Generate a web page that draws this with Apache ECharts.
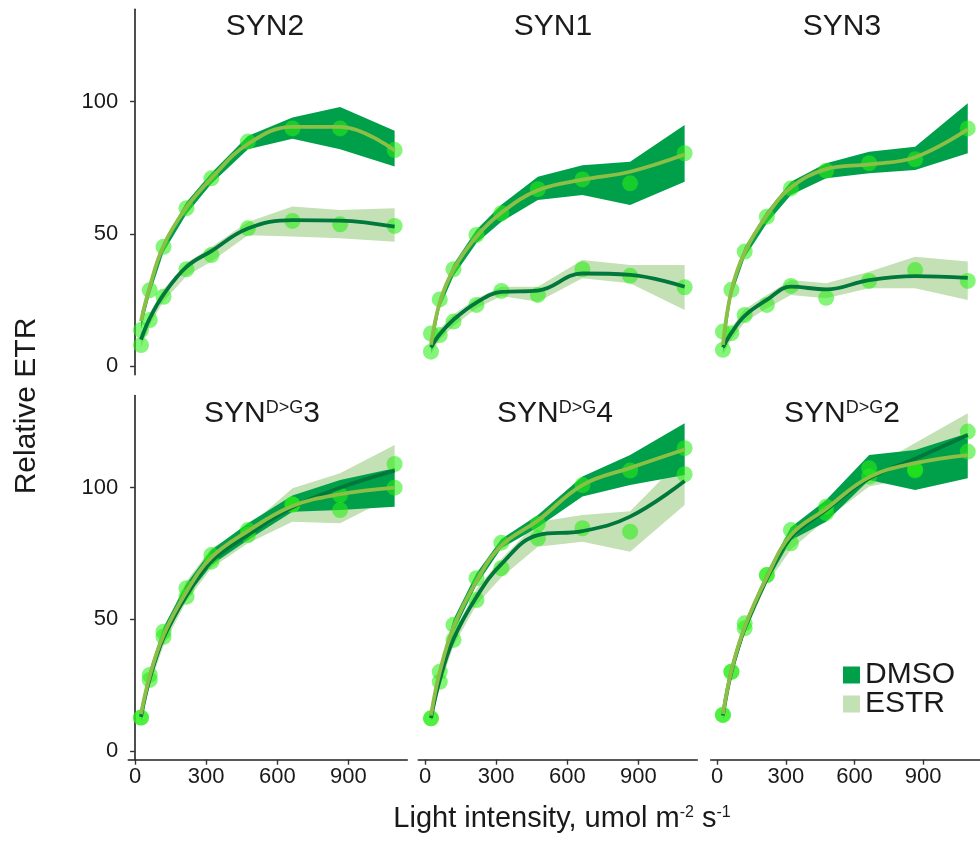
<!DOCTYPE html>
<html>
<head>
<meta charset="utf-8">
<script src="https://cdn.jsdelivr.net/npm/echarts@6/dist/echarts.min.js"></script>
<style>
  html, body { margin: 0; padding: 0; background: #fff; }
  #chart { width: 980px; height: 850px; }
</style>
</head>
<body>
<div id="chart"></div>
<script>
// light steps, umol m-2 s-1
const lightX = [25, 62, 120, 217, 322, 476, 664, 865, 1095];
const xTicks = [0, 300, 600, 900];
const yTicks = [0, 50, 100];

// SYN2
const syn2DmsoPts = [13.6, 28.7, 45.1, 59.7, 71.0, 84.9, 89.9, 89.9, 81.7];
const syn2DmsoFit = [17, 30, 45.5, 60, 71, 84, 90.5, 90.5, 81.5];
const syn2DmsoLo  = [14, 27, 43, 57.5, 69, 82, 86, 82, 75.5];
const syn2DmsoHi  = [20, 31, 47, 62, 73, 87, 94, 98, 89];
const syn2EstrPts = [7.9, 17.4, 26.2, 36.6, 42.0, 52.1, 54.9, 53.6, 53.0];
const syn2EstrFit = [10, 18, 27, 37.5, 43.5, 52, 55.2, 55, 52.7];
const syn2EstrLo  = [7, 15.5, 24.5, 34, 39.5, 49.5, 49, 48.3, 47];
const syn2EstrHi  = [12, 20, 29, 39, 45, 54.5, 60.3, 59, 59.7];
// SYN1
const syn1DmsoPts = [12.3, 25.2, 36.6, 49.6, 57.8, 66.9, 70.6, 69.1, 80.5];
const syn1DmsoFit = [8, 24, 36.5, 49, 58, 66.5, 70.5, 73.5, 80];
const syn1DmsoLo  = [5, 22, 34, 46.5, 54.6, 62.8, 64.7, 60.9, 69.7];
const syn1DmsoHi  = [11, 26, 38.5, 51.5, 61, 71.6, 76, 77.3, 91.2];
const syn1EstrPts = [5.4, 11.7, 16.8, 23.1, 28.4, 26.9, 36.6, 34.1, 29.8];
const syn1EstrFit = [7, 12, 17.5, 24, 28, 28.5, 35, 34.5, 30];
const syn1EstrLo  = [4.5, 10, 15, 21.8, 26.5, 24.3, 33.2, 31.3, 21.2];
const syn1EstrHi  = [9, 14, 19.5, 25.5, 30, 30, 40.1, 38.2, 38.2];
// SYN3
const syn3DmsoPts = [13.0, 28.8, 43.3, 56.5, 67.2, 73.9, 76.7, 78.2, 89.9];
const syn3DmsoFit = [8, 28.5, 43, 57, 67.5, 74.5, 76.3, 79, 89.5];
const syn3DmsoLo  = [5, 26.5, 41, 54, 64.7, 71, 72.9, 74.2, 80.5];
const syn3DmsoHi  = [11, 30.5, 45, 58.5, 69.7, 76.7, 81.1, 83, 99.4];
const syn3EstrPts = [6.1, 12.4, 19.3, 23.1, 30.3, 25.8, 32.2, 36.3, 32.2];
const syn3EstrFit = [7, 12.5, 19, 25, 30, 29, 32.5, 34, 33.3];
const syn3EstrLo  = [4.5, 10, 16.5, 21.8, 26.9, 25.6, 29.4, 29.4, 25];
const syn3EstrHi  = [9.5, 14.5, 21.5, 26.9, 32.5, 31.3, 35.7, 41.3, 39.5];
// SYN D>G 3
const dg3DmsoPts = [12.7, 28.9, 45.3, 61.8, 74.4, 83.9, 93.7, 97.2, 100];
const dg3DmsoFit = [14, 28.5, 44, 60.5, 73.5, 83.5, 93, 97.5, 100];
const dg3DmsoLo  = [11, 26, 41.5, 58.5, 70.6, 80.1, 90.9, 91.5, 92.8];
const dg3DmsoHi  = [16, 31, 47, 63.5, 76.3, 86.5, 97, 102.9, 107.4];
const dg3EstrPts = [12.7, 27.0, 43.4, 58.6, 71.9, 82.0, 93.5, 91.5, 109];
const dg3EstrFit = [13, 27.5, 43, 59, 72, 82, 92.5, 100, 106.5];
const dg3EstrLo  = [10.5, 25, 40, 57, 69.5, 78.9, 87.1, 86.5, 97];
const dg3EstrHi  = [15.5, 30, 46, 64.5, 77, 85, 99.8, 105.5, 116.2];
// SYN D>G 4
const dg4DmsoPts = [12.4, 30.1, 47.9, 65.6, 79.1, 86.2, 101, 106.5, 115];
const dg4DmsoFit = [13.5, 30, 47, 64.5, 78, 87.5, 101, 107.5, 114.5];
const dg4DmsoLo  = [11.5, 28, 45, 63, 77, 85, 96.6, 101, 104.8];
const dg4DmsoHi  = [16, 32, 50, 67.5, 80.5, 89.6, 104.2, 112.4, 124.5];
const dg4EstrPts = [12.4, 26.3, 42.2, 57.3, 69.4, 80.8, 84.6, 83.3, 105.1];
const dg4EstrFit = [12.5, 27, 42.5, 58.5, 71, 82, 83.5, 89, 102.5];
const dg4EstrLo  = [11, 24.5, 40, 55.5, 66, 77.6, 79.5, 75.7, 93.4];
const dg4EstrHi  = [14.5, 29, 45, 61.5, 73, 87, 89.6, 91, 112];
// SYN D>G 2
const dg2DmsoPts = [13.7, 30.1, 48.5, 66.8, 83.9, 92.8, 107.4, 107, 113.7];
const dg2DmsoFit = [14, 30.5, 47, 66, 82, 92, 104, 109.3, 112.4];
const dg2DmsoLo  = [12, 28.5, 45, 64, 80, 87.1, 102.9, 99.1, 103.6];
const dg2DmsoHi  = [16, 32.5, 49, 68, 85, 95.3, 112.4, 114.3, 120.7];
const dg2EstrPts = [13.7, 30.1, 46.6, 66.8, 78.9, 90.3, 104.2, 106.5, 121.3];
const dg2EstrFit = [13.5, 30, 46.5, 65.5, 81, 91.5, 103.5, 111, 120];
const dg2EstrLo  = [12, 28, 44.5, 63.5, 76.5, 88, 100.4, 104, 112];
const dg2EstrHi  = [15, 32, 48.5, 68, 85, 94, 107, 117, 128.3];

const titles = ['SYN2', 'SYN1', 'SYN3', 'SYN{sup|D>G}3', 'SYN{sup|D>G}4', 'SYN{sup|D>G}2'];
const panels = [
  [syn2DmsoPts, syn2DmsoFit, syn2DmsoLo, syn2DmsoHi, syn2EstrPts, syn2EstrFit, syn2EstrLo, syn2EstrHi],
  [syn1DmsoPts, syn1DmsoFit, syn1DmsoLo, syn1DmsoHi, syn1EstrPts, syn1EstrFit, syn1EstrLo, syn1EstrHi],
  [syn3DmsoPts, syn3DmsoFit, syn3DmsoLo, syn3DmsoHi, syn3EstrPts, syn3EstrFit, syn3EstrLo, syn3EstrHi],
  [dg3DmsoPts, dg3DmsoFit, dg3DmsoLo, dg3DmsoHi, dg3EstrPts, dg3EstrFit, dg3EstrLo, dg3EstrHi],
  [dg4DmsoPts, dg4DmsoFit, dg4DmsoLo, dg4DmsoHi, dg4EstrPts, dg4EstrFit, dg4EstrLo, dg4EstrHi],
  [dg2DmsoPts, dg2DmsoFit, dg2DmsoLo, dg2DmsoHi, dg2EstrPts, dg2EstrFit, dg2EstrLo, dg2EstrHi]
];

const FONT = '"Liberation Sans", Arial, sans-serif';
const TXT = '#1a1a1a';
const dmsoBand = '#00a04b';
const estrBand = '#c3e1b4';
const dmsoLine = '#8cbf45';
const estrLine = '#00773b';
const pointCol = 'rgba(40,238,20,0.72)';

const colLeft = [128.3, 418.3, 710.7];
const rowTop = [9.2, 395.5];
const rowH = [365.5, 364.2];
const panelW = 279;
const titleX = [265, 553, 842, 262, 555, 842];
const titleY = [27, 414];

const grids = [], xAxes = [], yAxes = [], series = [];

function band(gi, lo, hi, color, name) {
  return {
    type: 'custom', name, xAxisIndex: gi, yAxisIndex: gi, silent: true,
    itemStyle: { color },
    data: lightX.map((x, i) => [x, lo[i], hi[i]]),
    encode: { x: 0, y: [1, 2] },
    renderItem(params, api) {
      if (params.dataIndex !== 0) return null;
      const up = lightX.map((x, i) => api.coord([x, hi[i]]));
      const dn = lightX.map((x, i) => api.coord([x, lo[i]])).reverse();
      return { type: 'polygon', shape: { points: up.concat(dn) }, style: { fill: color } };
    }
  };
}
function fitLine(gi, fit, color) {
  return {
    type: 'line', xAxisIndex: gi, yAxisIndex: gi, silent: true,
    data: lightX.map((x, i) => [x, fit[i]]),
    smooth: 0.4, symbol: 'none', lineStyle: { color, width: 3.8 }
  };
}
function dots(gi, pts) {
  return {
    type: 'scatter', xAxisIndex: gi, yAxisIndex: gi, silent: true,
    data: lightX.map((x, i) => [x, pts[i]]),
    symbolSize: 16, itemStyle: { color: pointCol }
  };
}

panels.forEach((p, gi) => {
  const row = gi < 3 ? 0 : 1, col = gi % 3;
  grids.push({ left: colLeft[col], top: rowTop[row], width: panelW, height: rowH[row] });
  xAxes.push({
    gridIndex: gi, type: 'value', min: -28.5, max: 1148.5, show: row === 1,
    axisLine: { show: true, onZero: false, lineStyle: { color: '#222', width: 1.6 } },
    axisTick: { show: true, length: 5, customValues: xTicks, lineStyle: { color: '#333', width: 1.4 } },
    axisLabel: { customValues: xTicks, fontSize: 22, margin: 6, color: TXT, fontFamily: FONT },
    splitLine: { show: false }
  });
  yAxes.push({
    gridIndex: gi, type: 'value', min: -3.3, max: 135, show: col === 0,
    axisLine: { show: true, lineStyle: { color: '#222', width: 1.6 } },
    axisTick: { show: true, length: 5, customValues: yTicks, lineStyle: { color: '#333', width: 1.4 } },
    axisLabel: { customValues: yTicks, fontSize: 22, margin: 10, color: TXT, fontFamily: FONT },
    splitLine: { show: false }
  });
  series.push(band(gi, p[6], p[7], estrBand, 'ESTR'));
  series.push(band(gi, p[2], p[3], dmsoBand, 'DMSO'));
  series.push(fitLine(gi, p[5], estrLine));
  series.push(fitLine(gi, p[1], dmsoLine));
  series.push(dots(gi, p[4]));
  series.push(dots(gi, p[0]));
});

const graphics = titles.map((t, i) => ({
  type: 'text', x: titleX[i], y: titleY[i < 3 ? 0 : 1], z: 100,
  style: {
    text: t, fontSize: 30, fontFamily: FONT, fill: TXT, lineHeight: 30,
    align: 'center', verticalAlign: 'middle',
    rich: { sup: { fontSize: 18, lineHeight: 20, verticalAlign: 'top', fontFamily: FONT, fill: TXT } }
  }
}));
graphics.push({
  type: 'text', x: 27, y: 406, rotation: Math.PI / 2, z: 100,
  style: { text: 'Relative ETR', fontSize: 30, fontFamily: FONT, fill: TXT, align: 'center', verticalAlign: 'middle' }
});
graphics.push({
  type: 'text', x: 562, y: 819, z: 100,
  style: {
    text: 'Light intensity, umol m{sup|-2} s{sup|-1}', fontSize: 29, fontFamily: FONT, fill: TXT, lineHeight: 29,
    align: 'center', verticalAlign: 'middle',
    rich: { sup: { fontSize: 16, lineHeight: 16, verticalAlign: 'top', fontFamily: FONT, fill: TXT } }
  }
});

const chart = echarts.init(document.getElementById('chart'));
chart.setOption({
  animation: false,
  backgroundColor: '#fff',
  grid: grids,
  xAxis: xAxes,
  yAxis: yAxes,
  legend: {
    orient: 'vertical', left: 838, top: 655, icon: 'rect',
    itemWidth: 17, itemHeight: 17, itemGap: -1, selectedMode: false,
    textStyle: { fontSize: 30, lineHeight: 30, color: TXT, fontFamily: FONT },
    data: [
      { name: 'DMSO', itemStyle: { color: dmsoBand } },
      { name: 'ESTR', itemStyle: { color: estrBand } }
    ]
  },
  graphic: graphics,
  series
});
</script>
</body>
</html>
